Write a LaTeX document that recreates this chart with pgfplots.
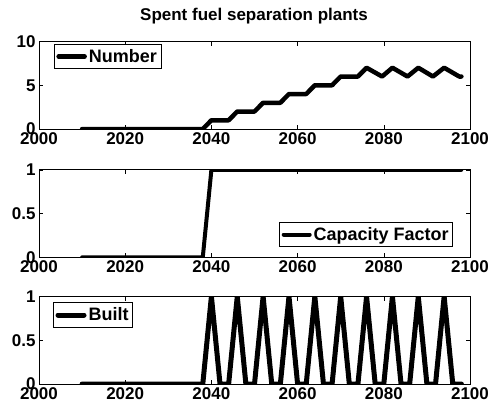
\documentclass[border=0pt]{standalone}
\usepackage{fontspec}
\setmainfont{Liberation Sans}
\usepackage{pgfplots}
\pgfplotsset{compat=1.18}
\newcommand{\ff}{\bfseries\fontsize{17bp}{19bp}\selectfont}
\newcommand{\lf}{\bfseries\fontsize{18bp}{20bp}\selectfont}
\pgfplotsset{
  every axis/.append style={
    scale only axis, width=431bp, height=87.5bp,
    xmin=2000, xmax=2100, xtick={2000,2020,...,2100},
    tick align=inside, major tick length=4bp,
    tick style={line width=0.6bp, black},
    axis line style={line width=0.8bp},
    /pgf/number format/1000 sep={},
    /pgf/number format/assume math mode=true,
    scaled ticks=false,
    tick label style={font=\ff},
    legend style={font=\lf, draw=black, line width=0.6bp, inner xsep=2bp, inner ysep=3bp},
    legend cell align=left,
    legend image code/.code={\draw[#1] (0bp,0bp) -- (26bp,0bp);},
  },
  pl/.style={black, line width=4.5bp, line join=round, line cap=round},
}
\begin{document}
\begin{tikzpicture}
\useasboundingbox (0,0) rectangle (495bp,-413bp);
\node[font=\ff] at (254bp,-16bp) {Spent fuel separation plants};
% Top panel
\begin{axis}[at={(39bp,-129bp)}, ymin=0, ymax=10, ytick={0,5,10},
  legend style={at={(0.035,0.974)}, anchor=north west}]
\addplot[pl] coordinates {(2010,0)(2038,0)(2040,1)(2044,1)(2046,2)(2050,2)(2052,3)(2056,3)(2058,4)(2062,4)(2064,5)(2068,5)(2070,6)(2074,6)(2076,7)(2079.6,6)(2082,7)(2085.5,6)(2088,7)(2091.4,6)(2094,7)(2097.5,6)(2098,6)};
\addlegendentry{Number}
\end{axis}
% Middle panel
\begin{axis}[at={(39bp,-257.3bp)}, ymin=0, ymax=1, ytick={0,0.5,1},
  legend style={at={(0.9606,0.117)}, anchor=south east}]
\addplot[pl, line width=4bp] coordinates {(2010,0)(2038,0)(2040,1)(2098,1)};
\addlegendentry{Capacity Factor}
\end{axis}
% Bottom panel
\begin{axis}[at={(39bp,-384bp)}, ymin=0, ymax=1, ytick={0,0.5,1},
  legend style={at={(0.033,0.932)}, anchor=north west}]
\addplot[pl, line width=5bp] coordinates {(2010,0)(2038,0)(2040,1)(2042,0)(2044,0)(2046,1)(2048,0)(2050,0)(2052,1)(2054,0)(2056,0)(2058,1)(2060,0)(2062,0)(2064,1)(2066,0)(2068,0)(2070,1)(2072,0)(2074,0)(2076,1)(2078,0)(2080,0)(2082,1)(2084,0)(2086,0)(2088,1)(2090,0)(2092,0)(2094,1)(2096,0)(2098,0)};
\addlegendentry{Built}
\end{axis}
\end{tikzpicture}
\end{document}
